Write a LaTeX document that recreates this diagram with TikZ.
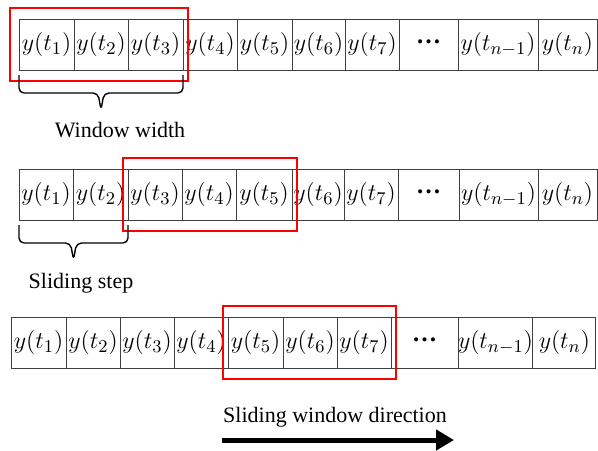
\documentclass[tikz,border=0pt]{standalone}
\usepackage{amsmath}
\usepackage{fontspec}
\setmainfont{Liberation Serif}
\usetikzlibrary{
        arrows.meta,
        calc,
        fit,
        positioning
    }
\tikzset{cell/.style={draw=black!75,line width=0.5pt,rectangle,minimum height=25.5pt,
        inner sep=0pt,outer sep=0pt,font=\fontsize{12.5}{14}\selectfont}}
\tikzset{window/.style={draw=red,line width=1pt,rectangle,inner xsep=2.5pt,inner ysep=5.5pt}}
\tikzset{span/.style={line width=0.7pt,rounded corners=2.5pt}}
\tikzset{lbl/.style={font=\fontsize{11}{13}\selectfont}}
\newcommand{\spanbrace}[2]{%
    \draw[span] ([yshift=-2.5pt]#1.south west) -- ++(0,-9pt)
        -- ($([yshift=-11.5pt]#1.south west)!0.5!([yshift=-11.5pt]#2.south east)+(-1.5pt,0)$)
        -- ($([yshift=-20pt]#1.south west)!0.5!([yshift=-20pt]#2.south east)$)
        -- ($([yshift=-11.5pt]#1.south west)!0.5!([yshift=-11.5pt]#2.south east)+(1.5pt,0)$)
        -- ([yshift=-11.5pt]#2.south east) -- ([yshift=-2.5pt]#2.south east);}

\begin{document}
\begin{tikzpicture}[x=0.5pt,y=-0.5pt]
                \useasboundingbox (0,0) rectangle (598,450);
                % first row
                \coordinate (a0) at (19,44.5);
                \foreach \n/\w/\lab [remember=\n as \last (initially a0)] in
                    {a1/27.5pt/$y(t_1)$, a2/27pt/$y(t_2)$, a3/27.5pt/$y(t_3)$, a4/27pt/$y(t_4)$,
                     a5/27.5pt/$y(t_5)$, a6/26.5pt/$y(t_6)$, a7/27pt/$y(t_7)$, a8/29.5pt/\raisebox{0.45ex}{\textbf{…}},
                     a9/40pt/$y(t_{n-1})$, a10/29.5pt/$y(t_n)$}
                    \node[cell,minimum width=\w,right=0pt of \last] (\n) {\lab};
                \node[window,fit=(a1) (a3),inner xsep=3.5pt,xshift=-1pt] (win1) {};
                \spanbrace{a1}{a3}
                \node[lbl] (ww) at (120,130) {Window width};
                % second row
                \coordinate (b0) at (19,194.5);
                \foreach \n/\w/\lab [remember=\n as \last (initially b0)] in
                    {b1/27pt/$y(t_1)$, b2/27.5pt/$y(t_2)$, b3/27pt/$y(t_3)$, b4/27pt/$y(t_4)$,
                     b5/28pt/$y(t_5)$, b6/26pt/$y(t_6)$, b7/27pt/$y(t_7)$, b8/30.5pt/\raisebox{0.45ex}{\textbf{…}},
                     b9/39.5pt/$y(t_{n-1})$, b10/29.5pt/$y(t_n)$}
                    \node[cell,minimum width=\w,right=0pt of \last] (\n) {\lab};
                \node[window,fit=(b3) (b5)] (win2) {};
                \spanbrace{b1}{b2}
                \node[lbl] (ss) at (81,283) {Sliding step};
                % third row
                \coordinate (c0) at (11,342.5);
                \foreach \n/\w/\lab [remember=\n as \last (initially c0)] in
                    {c1/27.5pt/$y(t_1)$, c2/27pt/$y(t_2)$, c3/27pt/$y(t_3)$, c4/27pt/$y(t_4)$,
                     c5/27.5pt/$y(t_5)$, c6/27pt/$y(t_6)$, c7/27pt/$y(t_7)$, c8/33.5pt/\raisebox{0.45ex}{\textbf{…}},
                     c9/36pt/$y(t_{n-1})$, c10/31.5pt/$y(t_n)$}
                    \node[cell,minimum width=\w,right=0pt of \last] (\n) {\lab};
                \node[window,fit=(c5) (c7)] (win3) {};
                \node[lbl] (dir) at (335,417) {Sliding window direction};
                \coordinate (dirs) at (222,440);
                \coordinate (dire) at (454,440);
                \draw[-{Triangle[length=9pt,width=10pt]},line width=2.5pt] (dirs) -- (dire);
            \end{tikzpicture}
\end{document}
